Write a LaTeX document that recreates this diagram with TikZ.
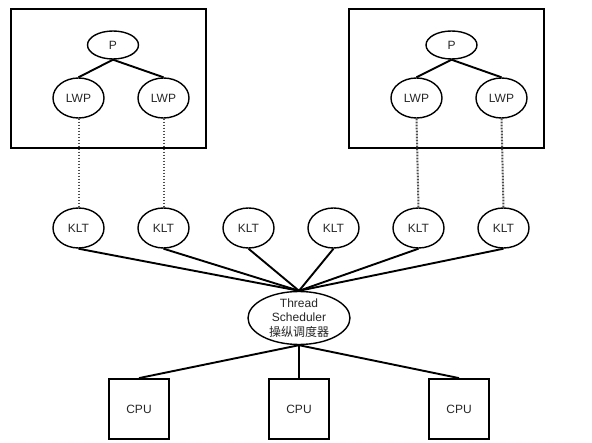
\documentclass[tikz,border=0pt]{standalone}
\usepackage{fontspec}
\setmainfont{Liberation Sans}
\newfontfamily\cjk{Noto Sans CJK SC}
\usetikzlibrary{shapes.geometric}

\begin{document}
\begin{tikzpicture}[x=1pt,y=-1pt]
    \tikzstyle{E}=[ellipse,draw,line width=1.4pt,minimum width=51pt,minimum height=40pt,inner sep=0pt,text=black!85,font=\fontsize{12}{14.5}\selectfont]
    \tikzstyle{PE}=[E,minimum height=28pt]
    \tikzstyle{B}=[rectangle,draw,line width=1.8pt,minimum size=60pt,inner sep=0pt,text=black!85,font=\fontsize{12}{14}\selectfont]
    \tikzstyle{W}=[line width=1.9pt]
    \tikzstyle{D}=[line width=2pt,gray!60!black,dash pattern=on 1.6pt off 1.4pt]

    \useasboundingbox (0,0) rectangle (592,443);

    % process boxes
    \draw [W] (11,9) rectangle (206,148);
    \draw [W] (349,9) rectangle (544,148);

    \node [PE] (p1) at (113,45) {P};
    \node [E] (lwp1) at (78.5,98) {LWP};
    \node [E] (lwp2) at (163.5,98) {LWP};
    \node [PE] (p2) at (451.5,45) {P};
    \node [E] (lwp3) at (416.5,98) {LWP};
    \node [E] (lwp4) at (501.5,98) {LWP};

    \node [E] (klt1) at (78.5,228) {KLT};
    \node [E] (klt2) at (163.5,228) {KLT};
    \node [E] (klt3) at (248.5,228) {KLT};
    \node [E] (klt4) at (333.5,228) {KLT};
    \node [E] (klt5) at (418.5,228) {KLT};
    \node [E] (klt6) at (503.5,228) {KLT};

    \node [E,minimum width=102pt,minimum height=53pt,inner sep=-5pt,align=center] (sch) at (299,318) {Thread\\Scheduler\\{\cjk 操纵调度器}};

    \node [B] (cpu1) at (139,409) {CPU};
    \node [B] (cpu2) at (299,409) {CPU};
    \node [B] (cpu3) at (459,409) {CPU};

    \draw [W] (p1.south) -- (lwp1.north);
    \draw [W] (p1.south) -- (lwp2.north);
    \draw [W] (p2.south) -- (lwp3.north);
    \draw [W] (p2.south) -- (lwp4.north);

    \draw [D] (lwp1.south) -- (klt1.north);
    \draw [D] (lwp2.south) -- (klt2.north);
    \draw [D] (lwp3.south) -- (klt5.north);
    \draw [D] (lwp4.south) -- (klt6.north);

    \draw [W] (klt1.south) -- (sch.north);
    \draw [W] (klt2.south) -- (sch.north);
    \draw [W] (klt3.south) -- (sch.north);
    \draw [W] (klt4.south) -- (sch.north);
    \draw [W] (klt5.south) -- (sch.north);
    \draw [W] (klt6.south) -- (sch.north);

    \draw [W] (sch.south) -- (cpu1.north);
    \draw [W] (sch.south) -- (cpu2.north);
    \draw [W] (sch.south) -- (cpu3.north);
\end{tikzpicture}
\end{document}
